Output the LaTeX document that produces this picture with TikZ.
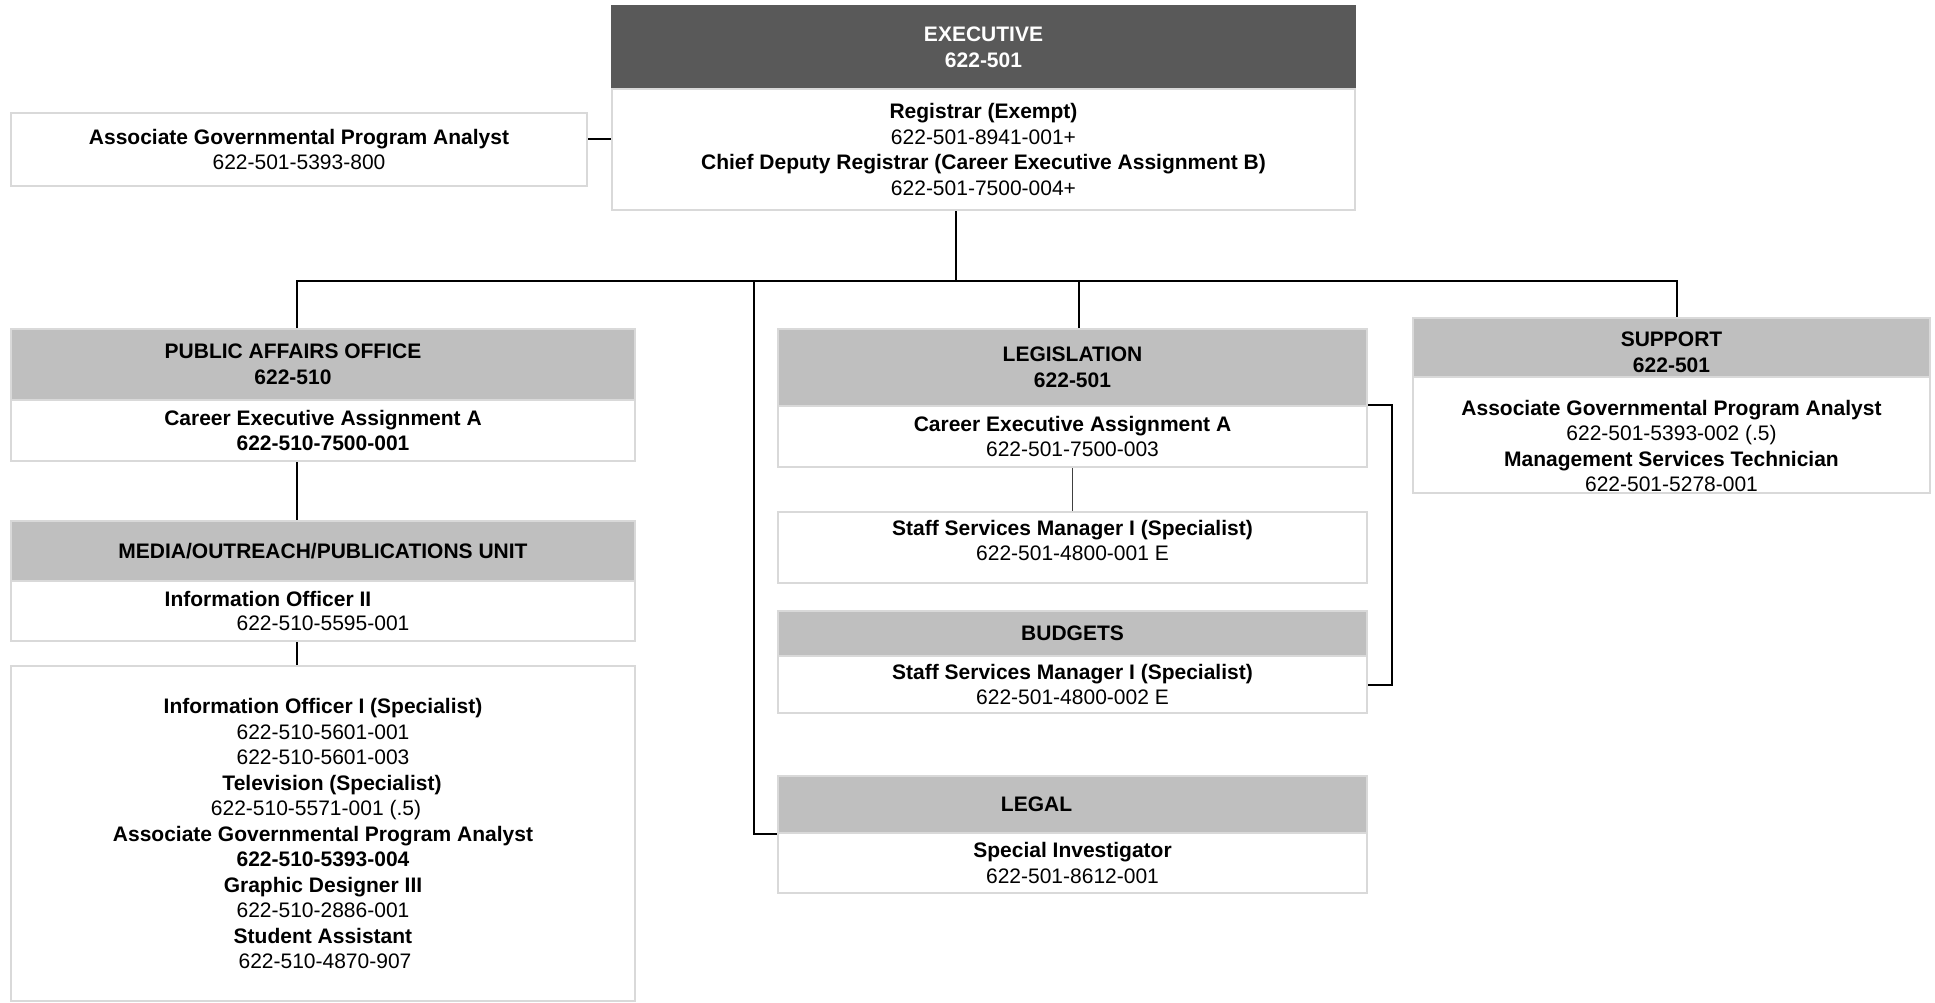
\documentclass[tikz,border=0pt]{standalone}
\usepackage{fontspec}
\setmainfont{Liberation Sans}
\definecolor{bordergray}{HTML}{D9D9D9}
\definecolor{hdrgray}{HTML}{BFBFBF}
\definecolor{execgray}{HTML}{595959}
\begin{document}
\begin{tikzpicture}[x=1pt,y=-1pt,
  box/.style={draw=bordergray, line width=2pt, fill=white, anchor=north west, inner sep=0pt},
  hbox/.style={box, fill=hdrgray},
  ebox/.style={box, fill=execgray, draw=execgray},
  txt/.style={align=center, font=\fontsize{21}{25.5}\selectfont, inner sep=0pt},
  conn/.style={line width=2pt, black},
  thinconn/.style={line width=1.4pt, black!75},
]
\useasboundingbox (0,0) rectangle (1935,1002);

% ---------- Executive ----------
\node[ebox, minimum width=743pt, minimum height=83pt] (exech) at (611,5) {};
\node[box, minimum width=743pt, minimum height=121pt] (execb) at (611,88) {};
\node[txt, text=white] (exechT) at (exech.center) {\textbf{EXECUTIVE}\\\textbf{622-501}};
\node[txt] (execbT) at (execb.center) {\textbf{Registrar (Exempt)}\\622-501-8941-001+\\\textbf{Chief Deputy Registrar (Career Executive Assignment B)}\\622-501-7500-004+};

% ---------- Left analyst ----------
\node[box, minimum width=576pt, minimum height=73pt] (agpa) at (10,112) {};
\node[txt] (agpaT) at (agpa.center) {\textbf{Associate Governmental Program Analyst}\\622-501-5393-800};

% ---------- Public affairs ----------
\node[hbox, minimum width=624pt, minimum height=71pt] (paoh) at (10,328) {};
\node[box, minimum width=624pt, minimum height=61pt] (paob) at (10,399) {};
\node[txt] (paohT) at ([xshift=-30pt]paoh.center) {\textbf{PUBLIC AFFAIRS OFFICE}\\\textbf{622-510}};
\node[txt] (paobT) at (paob.center) {\textbf{Career Executive Assignment A}\\\textbf{622-510-7500-001}};

\node[hbox, minimum width=624pt, minimum height=60pt] (medh) at (10,520) {};
\node[box, minimum width=624pt, minimum height=60pt] (medb) at (10,580) {};
\node[txt] (medhT) at (medh.center) {\textbf{MEDIA/OUTREACH/PUBLICATIONS UNIT}};
\node[txt] (medbT1) at ([xshift=-55pt,yshift=12.5pt]medb.center) {\textbf{Information Officer II}};
\node[txt] (medbT2) at ([yshift=-12.5pt]medb.center) {622-510-5595-001};

\node[box, minimum width=624pt, minimum height=335pt] (big) at (10,665) {};
\node[txt] (bigT) at (big.center) {\textbf{Information Officer I (Specialist)}\\622-510-5601-001\\622-510-5601-003\\\hspace*{18pt}\textbf{Television (Specialist)}\\\hspace*{-14pt}622-510-5571-001 (.5)\\\textbf{Associate Governmental Program Analyst}\\\textbf{622-510-5393-004}\\\textbf{Graphic Designer III}\\622-510-2886-001\\\textbf{Student Assistant}\\\hspace*{4pt}622-510-4870-907};

% ---------- Legislation ----------
\node[hbox, minimum width=589pt, minimum height=77pt] (legh) at (777,328) {};
\node[box, minimum width=589pt, minimum height=61pt] (legb) at (777,405) {};
\node[txt] (leghT) at (legh.center) {\textbf{LEGISLATION}\\\textbf{622-501}};
\node[txt] (legbT) at (legb.center) {\textbf{Career Executive Assignment A}\\622-501-7500-003};

\node[box, minimum width=589pt, minimum height=71pt] (ssm) at (777,511) {};
\node[txt] (ssmT) at ([yshift=7pt]ssm.center) {\textbf{Staff Services Manager I (Specialist)}\\622-501-4800-001 E};

\node[hbox, minimum width=589pt, minimum height=45pt] (budh) at (777,610) {};
\node[box, minimum width=589pt, minimum height=57pt] (budb) at (777,655) {};
\node[txt] (budhT) at (budh.center) {\textbf{BUDGETS}};
\node[txt] (budbT) at (budb.center) {\textbf{Staff Services Manager I (Specialist)}\\622-501-4800-002 E};

% ---------- Legal ----------
\node[hbox, minimum width=589pt, minimum height=57pt] (lglh) at (777,775) {};
\node[box, minimum width=589pt, minimum height=60pt] (lglb) at (777,832) {};
\node[txt] (lglhT) at ([xshift=-36pt]lglh.center) {\textbf{LEGAL}};
\node[txt] (lglbT) at (lglb.center) {\textbf{Special Investigator}\\622-501-8612-001};

% ---------- Support ----------
\node[hbox, minimum width=517pt, minimum height=59pt] (suph) at (1412,317) {};
\node[box, minimum width=517pt, minimum height=116pt] (supb) at (1412,376) {};
\node[txt] (suphT) at ([yshift=-5pt]suph.center) {\textbf{SUPPORT}\\\textbf{622-501}};
\node[txt] (supbT) at ([yshift=-11pt]supb.center) {\textbf{Associate Governmental Program Analyst}\\622-501-5393-002 (.5)\\\textbf{Management Services Technician}\\622-501-5278-001};

% ---------- Connectors ----------
\coordinate (busL) at (297,281);
\coordinate (busR) at (1677,281);
\coordinate (execx) at (956,281);
\coordinate (lglx) at (754,281);
\coordinate (legx) at (1079,281);

\draw[conn] ([yshift=11pt]agpa.east) -- ([yshift=11pt]agpa.east -| execb.west);
\draw[conn] (execx |- execb.south) -- (execx);
\draw[conn] (busL |- paoh.north) -- (busL) -- (busR) -- (busR |- suph.north);
\draw[conn] (legx) -- (legx |- legh.north);
\draw[conn] (lglx) -- (lglx |- lglh.south west) -- (lglh.south west);
\draw[conn] (busL |- paob.south) -- (busL |- medh.north);
\draw[conn] (busL |- medb.south) -- (busL |- big.north);
\draw[thinconn] (legb.south) -- (ssm.north);
\draw[conn] (legb.north east) -- ++(24,0) |- (budb.east);
\end{tikzpicture}
\end{document}
